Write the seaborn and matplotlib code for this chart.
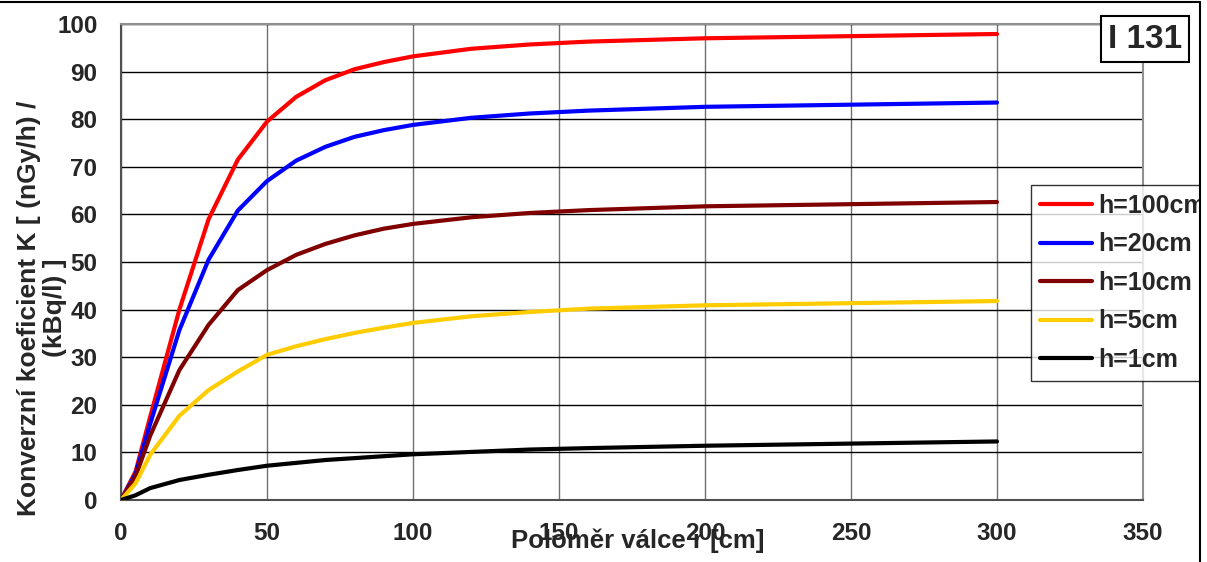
import matplotlib
matplotlib.use("Agg")
import matplotlib.pyplot as plt
import seaborn as sns
import pandas as pd
from matplotlib.patches import Rectangle
from matplotlib.lines import Line2D

# ---- data ----
r_cm = [0, 5, 10, 20, 30, 40, 50, 60, 70, 80, 90, 100, 120, 140, 160, 200, 300]
h100 = [0, 6.0, 17.5, 40.0, 59.0, 71.5, 79.5, 84.7, 88.2, 90.5, 92.0, 93.2, 94.8, 95.7, 96.3, 97.0, 97.9]
h20 = [0, 5.5, 16.0, 35.7, 50.5, 60.8, 67.0, 71.3, 74.2, 76.3, 77.7, 78.8, 80.3, 81.2, 81.8, 82.6, 83.5]
h10 = [0, 5.0, 13.5, 27.3, 36.8, 44.1, 48.3, 51.5, 53.8, 55.6, 57.0, 58.0, 59.4, 60.3, 60.9, 61.7, 62.6]
h5 = [0, 3.5, 9.5, 17.7, 23.1, 27.0, 30.5, 32.3, 33.8, 35.1, 36.2, 37.2, 38.6, 39.5, 40.2, 40.9, 41.8]
h1 = [0, 1.0, 2.5, 4.2, 5.3, 6.3, 7.2, 7.8, 8.4, 8.8, 9.2, 9.6, 10.1, 10.6, 10.9, 11.4, 12.3]
series_names = ["h=100cm", "h=20cm", "h=10cm", "h=5cm", "h=1cm"]
series_vals = [h100, h20, h10, h5, h1]
colors = ["#FF0000", "#0000FF", "#800000", "#FFCC00", "#000000"]
x_ticks = [0, 50, 100, 150, 200, 250, 300, 350]
y_ticks = [0, 10, 20, 30, 40, 50, 60, 70, 80, 90, 100]

rows = []
for name, vals in zip(series_names, series_vals):
    for x, y in zip(r_cm, vals):
        rows.append({"r": x, "K": y, "serie": name})
df = pd.DataFrame(rows)

sns.set_style("white")
plt.rcParams["font.family"] = ["Liberation Sans", "DejaVu Sans"]
plt.rcParams["font.weight"] = "bold"

W, H = 1207, 562
fig = plt.figure(figsize=(W / 100, H / 100), dpi=100)
ax = fig.add_axes([121 / W, 1 - 500 / H, (1143 - 121) / W, (500 - 24) / H])

sns.lineplot(data=df, x="r", y="K", hue="serie", hue_order=series_names,
             palette=colors, linewidth=3.0, ax=ax, legend=False, zorder=3)

ax.set_xlim(0, 350)
ax.set_ylim(0, 100)
ax.set_xticks(x_ticks)
ax.set_yticks(y_ticks)
ax.set_xticklabels([str(v) for v in x_ticks], fontsize=17.5, fontweight="bold")
ax.set_yticklabels([str(v) for v in y_ticks], fontsize=17.5, fontweight="bold")
ax.set_xlabel("")
ax.set_ylabel("")
ax.tick_params(axis="both", direction="out", length=6, width=1, color="#606060")
ax.tick_params(axis="x", pad=10)
ax.tick_params(axis="y", pad=11)
ax.yaxis.grid(True, color="#000000", linewidth=1.0)
ax.xaxis.grid(True, color="#707070", linewidth=1.0)
ax.set_axisbelow(True)
for s in ["left", "bottom"]:
    ax.spines[s].set_color("#505050")
    ax.spines[s].set_linewidth(1.5)
for s in ["top", "right"]:
    ax.spines[s].set_color("#909090")
    ax.spines[s].set_linewidth(1.5)

# axis titles
fig.text(42 / W, 1 - 308 / H, "Konverzní koeficient K [ (nGy/h) /\n(kBq/l) ]",
         rotation=90, ha="center", va="center", fontsize=19, fontweight="bold",
         multialignment="center", linespacing=1.1)
fig.text(638 / W, 1 - 541 / H, "Poloměr válce r [cm]", ha="center", va="center",
         fontsize=18.5, fontweight="bold")

# legend
handles = [Line2D([0], [0], color=c, lw=3.0) for c in colors]
leg = fig.legend(handles, series_names, loc="upper left",
                 bbox_to_anchor=(1031 / W, 1 - 185 / H), frameon=True,
                 prop={"size": 18, "weight": "bold"}, handlelength=2.1,
                 handletextpad=0.25, labelspacing=0.58, borderpad=0.35,
                 fancybox=False, borderaxespad=0)
leg.get_frame().set_edgecolor("#000000")
leg.get_frame().set_linewidth(1.0)
leg.set_zorder(5)

# I 131 box
fig.text((1098 + 1192) / 2 / W, 1 - 39 / H, "I 131", ha="center", va="center",
         fontsize=24, fontweight="bold", zorder=7,
         bbox=dict(boxstyle="square,pad=0.22", facecolor="white",
                   edgecolor="black", linewidth=1.5))

# chart-area border (cropped screenshot)
fig.add_artist(Rectangle((1201 / W, 0), (W - 1201) / W, 1, transform=fig.transFigure,
                         facecolor="white", edgecolor="none", zorder=10))
fig.add_artist(Line2D([1200 / W, 1200 / W], [0, 1 - 2 / H], transform=fig.transFigure,
                      color="black", lw=1.5, zorder=11))
fig.add_artist(Line2D([0, 1200 / W], [1 - 2 / H, 1 - 2 / H], transform=fig.transFigure,
                      color="black", lw=1.5, zorder=11))

fig.savefig("out.png", dpi=100)
